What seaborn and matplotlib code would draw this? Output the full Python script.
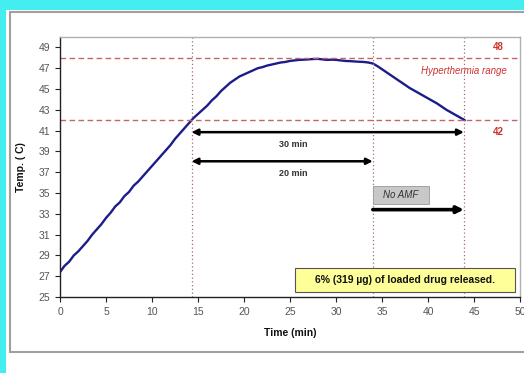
import numpy as np
import pandas as pd
import matplotlib
matplotlib.use("Agg")
import matplotlib.pyplot as plt
from matplotlib.patches import Rectangle
import seaborn as sns

# temperature trace
time_min = [0, 0.5, 1, 1.5, 2, 2.5, 3, 3.5, 4, 4.5, 5, 5.5, 6, 6.5, 7, 7.5, 8, 8.5,
            9, 9.5, 10, 10.5, 11, 11.5, 12, 12.5, 13, 13.5, 14, 14.5, 15, 15.5, 16,
            16.5, 17, 17.5, 18, 18.5, 19, 19.5, 20, 20.5, 21, 21.5, 22, 22.5, 23,
            23.5, 24, 24.5, 25, 25.5, 26, 26.5, 27, 27.5, 28, 28.5, 29, 29.5, 30,
            30.5, 31, 31.5, 32, 32.5, 33, 33.5, 34, 34.5, 35, 35.5, 36, 36.5, 37,
            37.5, 38, 38.5, 39, 39.5, 40, 40.5, 41, 41.5, 42, 42.5, 43, 43.5, 44]
temp_c = [27.4, 28.0, 28.4, 29.0, 29.4, 29.9, 30.4, 31.0, 31.5, 32.0, 32.6, 33.1,
          33.7, 34.1, 34.7, 35.1, 35.7, 36.1, 36.6, 37.1, 37.6, 38.1, 38.6, 39.1,
          39.6, 40.2, 40.7, 41.2, 41.7, 42.2, 42.6, 43.0, 43.4, 43.9, 44.3, 44.8,
          45.2, 45.6, 45.9, 46.2, 46.4, 46.6, 46.8, 47.0, 47.1, 47.25, 47.35, 47.45,
          47.55, 47.6, 47.7, 47.75, 47.8, 47.82, 47.85, 47.88, 47.9, 47.85, 47.8,
          47.82, 47.8, 47.75, 47.7, 47.68, 47.65, 47.62, 47.6, 47.55, 47.45, 47.2,
          46.9, 46.6, 46.3, 46.0, 45.7, 45.4, 45.1, 44.85, 44.6, 44.35, 44.1, 43.85,
          43.6, 43.3, 43.0, 42.75, 42.5, 42.25, 42.0]

hyper_low, hyper_high = 42, 48
marks = [14.3, 34, 43.9]
x_ticks = list(range(0, 51, 5))
y_ticks = list(range(25, 50, 2))

df = pd.DataFrame({"Time (min)": time_min, "Temp": temp_c})

sns.set_style("ticks")
plt.rcParams["font.family"] = ["Liberation Sans", "DejaVu Sans"]

fig = plt.figure(figsize=(5.24, 3.73), dpi=100)
fig.patch.set_facecolor("white")
W, H = 524, 373
cyan = "#44eef0"
fig.patches.append(Rectangle((0, 0), 6 / W, 1, transform=fig.transFigure,
                             facecolor=cyan, edgecolor="none", zorder=-10))
fig.patches.append(Rectangle((0, 1 - 10 / H), 1, 10 / H, transform=fig.transFigure,
                             facecolor=cyan, edgecolor="none", zorder=-10))
fig.patches.append(Rectangle((10 / W, 1 - 352 / H), 1, (352 - 12) / H,
                             transform=fig.transFigure, facecolor="white",
                             edgecolor="#a0a0a0", linewidth=1.5, zorder=-10))

ax = fig.add_axes([60 / W, 1 - 297 / H, (520 - 60) / W, (297 - 37) / H])
ax.set_facecolor("white")

sns.lineplot(data=df, x="Time (min)", y="Temp", color="#1c1c8a", linewidth=1.7, ax=ax)

for y in (hyper_low, hyper_high):
    ax.axhline(y, color="#c46464", linestyle=(0, (4, 2.5)), linewidth=1.0)
for x in marks:
    ax.axvline(x, color="#a07070", linestyle=(0, (1, 2)), linewidth=0.9)

ax.text(47.6, 49.0, "48", color="#cc3333", fontsize=7, fontweight="bold", ha="center", va="center")
ax.text(47.6, 40.9, "42", color="#cc3333", fontsize=7, fontweight="bold", ha="center", va="center")
ax.text(43.9, 46.7, "Hyperthermia range", color="#cc3333", fontsize=7, style="italic",
        ha="center", va="center")

# 30 min / 20 min arrows
ax.annotate("", xy=(marks[2], 40.85), xytext=(marks[0], 40.85),
            arrowprops=dict(arrowstyle="<|-|>", color="black", lw=1.8, mutation_scale=9,
                            shrinkA=0, shrinkB=0))
ax.text(25.4, 39.7, "30 min", fontsize=6.5, fontweight="bold", color="#333333", ha="center", va="center")
ax.annotate("", xy=(marks[1], 38.05), xytext=(marks[0], 38.05),
            arrowprops=dict(arrowstyle="<|-|>", color="black", lw=1.8, mutation_scale=9,
                            shrinkA=0, shrinkB=0))
ax.text(25.3, 36.9, "20 min", fontsize=6.5, fontweight="bold", color="#333333", ha="center", va="center")

# No AMF
ax.add_patch(Rectangle((34.0, 33.9), 6.1, 1.75, facecolor="#c8c8c8", edgecolor="#999999",
                       linewidth=0.6, zorder=3))
ax.text(37.0, 34.8, "No AMF", fontsize=7, style="italic", color="#333333",
        ha="center", va="center", zorder=4)
ax.annotate("", xy=(marks[2], 33.4), xytext=(marks[1], 33.4),
            arrowprops=dict(arrowstyle="-|>", color="black", lw=2.6, mutation_scale=10,
                            shrinkA=0, shrinkB=0))

# release note
ax.add_patch(Rectangle((25.5, 25.45), 24.0, 2.35, facecolor="#ffff99", edgecolor="#555555",
                       linewidth=0.8, zorder=3))
ax.text(37.5, 26.6, "6% (319 \u00b5g) of loaded drug released.", fontsize=7.5,
        fontweight="bold", color="#111111", ha="center", va="center", zorder=4)

ax.set_xlim(0, 50)
ax.set_ylim(25, 50)
ax.set_xticks(x_ticks)
ax.set_yticks(y_ticks)
ax.tick_params(labelsize=7.5, colors="#555555", length=3.5, width=0.8)
ax.tick_params(axis="both", which="both", color="#222222")
ax.set_xlabel("Time (min)", fontsize=7.5, fontweight="bold", color="#111111", labelpad=8)
ax.set_ylabel("Temp. ( C)", fontsize=7.5, fontweight="bold", color="#111111", labelpad=9)
for side in ("left", "bottom"):
    ax.spines[side].set_color("#222222")
    ax.spines[side].set_linewidth(1.0)
for side in ("top", "right"):
    ax.spines[side].set_visible(True)
    ax.spines[side].set_color("#b0b0b0")
    ax.spines[side].set_linewidth(1.0)

fig.savefig("out.png", dpi=100)
